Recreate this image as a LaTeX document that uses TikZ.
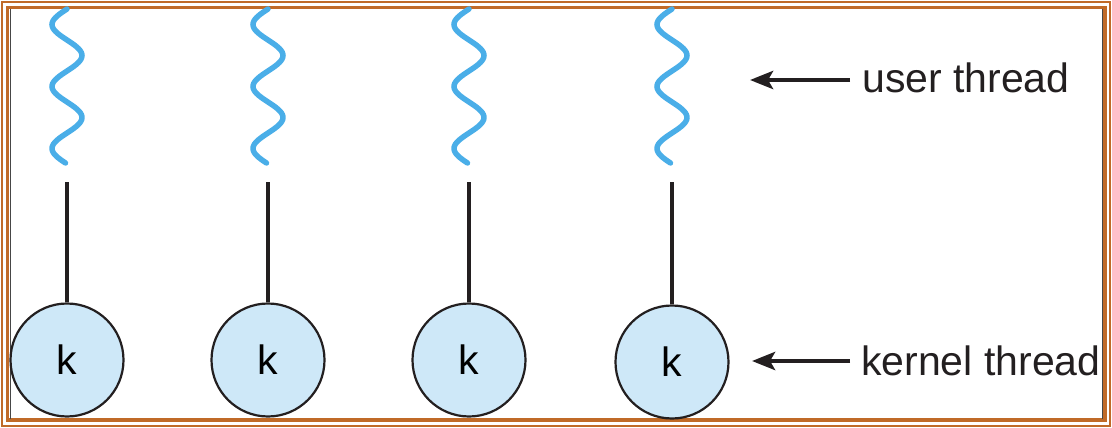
\documentclass[tikz,border=0pt]{standalone}
\usepackage{fontspec}
\setmainfont{Liberation Sans}
\usetikzlibrary{arrows.meta}
\definecolor{cadre}{RGB}{192,106,40}
\definecolor{ombre}{RGB}{70,70,70}
\definecolor{onde}{RGB}{74,174,232}
\definecolor{noyau}{RGB}{206,232,248}
\definecolor{encre}{RGB}{35,31,32}
\tikzstyle{onde}   =[color=onde, line width=5.5pt, line cap=round]
\tikzstyle{lien}   =[color=encre, line width=3.5pt]
\tikzstyle{noyau}  =[circle, draw=encre, line width=2.2pt, fill=noyau, minimum size=113pt, inner sep=0pt, font=\fontsize{41}{46}\selectfont]
\tikzstyle{legende}=[anchor=west, inner sep=0pt, text=encre, font=\fontsize{41}{48}\selectfont]
\tikzstyle{fleche} =[color=encre, line width=4.5pt, -{Stealth[length=23pt,width=18pt,inset=5pt]}]

\begin{document}
\begin{tikzpicture}[x=1pt,y=-1pt]

\useasboundingbox (0,0) rectangle (1112,428);

%%%%%%%%%%%%%%%%%%%%%%%%
%Cadre double
%%%%%%%%%%%%%%%%%%%%%%%%
\draw[cadre, line width=2.5pt] (2,2) rectangle (1110,426);
\draw[cadre, line width=3.5pt] (7.5,7.5) rectangle (1105,420);
\draw[ombre, line width=1.8pt] (10.5,9) -- (10.5,418.5);
\draw[ombre, line width=1.8pt] (1102.5,9) -- (1102.5,418.5);

%%%%%%%%%%%%%%%%%%%%%%%%
%Paramètres des fils
%%%%%%%%%%%%%%%%%%%%%%%%
\def \amplitude {15} %amplitude de l'onde
\def \demiperiode {31} %demi-période de l'onde
\def \haut {9} %haut de l'onde
\def \longueur {154} %longueur de l'onde

%fils utilisateur et fils noyau
\foreach \i/\cx/\ky in {1/67/360,2/268/360,3/469/360,4/672/362}{
    \node[noyau] (k\i) at (\cx,\ky) {\raisebox{-2pt}{k}};
    \coordinate (u\i) at (\cx,182);
    \draw[onde] plot[variable=\t, domain=0:\longueur, samples=90]
        ({\cx-\amplitude*sin(180/\demiperiode*\t)},{\haut+\t});
    \draw[lien] (u\i) -- (k\i.north);
}

%%%%%%%%%%%%%%%%%%%%%%%%
%Légendes
%%%%%%%%%%%%%%%%%%%%%%%%
\node[legende] (utilisateur) at (862,78) {user thread};
\node[legende] (noyau) at (861,361) {kernel thread};
\coordinate (pu) at (750,80);
\coordinate (pn) at (752,361);
\draw[fleche] ([xshift=-12pt]utilisateur.west |- pu) -- (pu);
\draw[fleche] ([xshift=-11pt]noyau.west |- pn) -- (pn);

\end{tikzpicture}
\end{document}
